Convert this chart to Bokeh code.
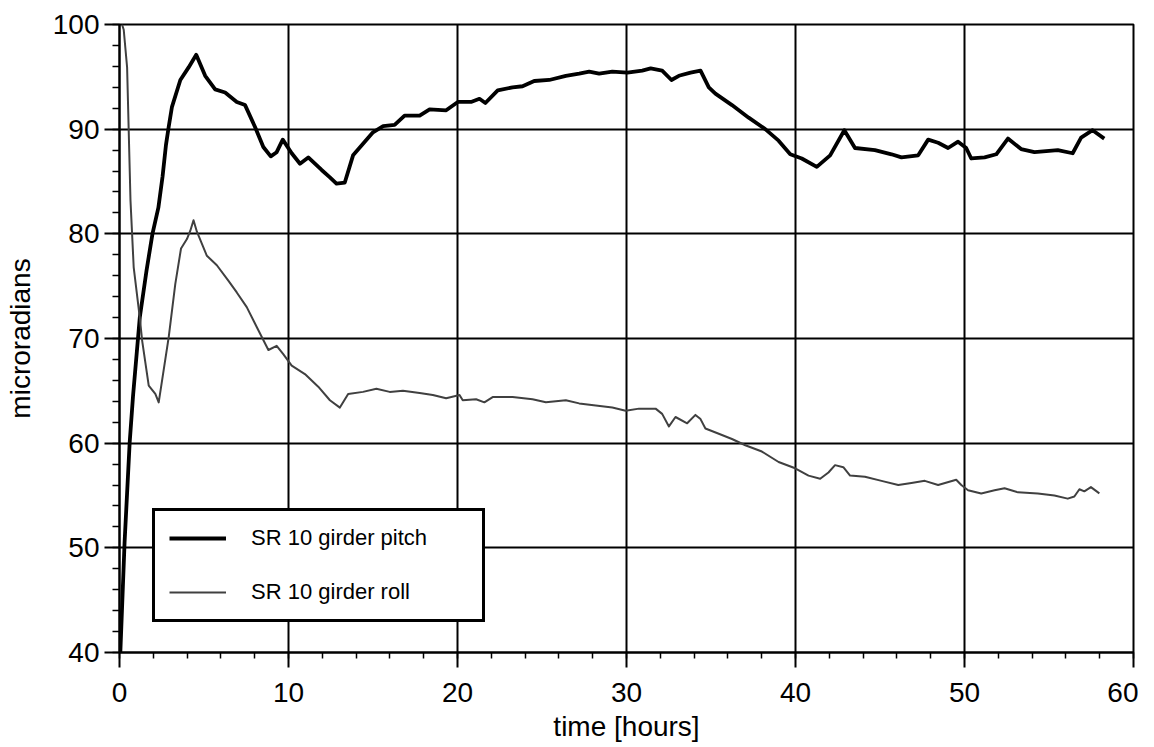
from bokeh.plotting import figure
from bokeh.models import Range1d, SingleIntervalTicker, Legend, LegendItem
from bokeh.embed import file_html
from bokeh.resources import INLINE

# ---- data ----
pitch_t = [0.05, 0.3, 0.6, 0.8, 1.2, 1.6, 1.95, 2.3, 2.55, 2.75, 2.91, 3.1, 3.6, 4.09, 4.54,
           5.07, 5.66, 6.25, 6.94, 7.43, 8.02, 8.51, 8.95, 9.3, 9.66, 10.19, 10.68, 11.17,
           11.96, 12.45, 12.84, 13.33, 13.82, 14.41, 15.0, 15.6, 16.28, 16.87, 17.76, 18.35,
           19.33, 20.02, 20.8, 21.3, 21.65, 22.38, 23.26, 23.85, 24.54, 25.43, 26.41, 27.2,
           27.79, 28.38, 29.16, 30.05, 30.93, 31.43, 32.11, 32.66, 33.1, 33.79, 34.38, 34.87,
           35.26, 36.24, 37.23, 38.21, 39.0, 39.69, 40.37, 41.26, 42.05, 42.89, 43.52, 44.7,
           45.68, 46.27, 47.26, 47.85, 48.44, 49.03, 49.62, 50.1, 50.4, 51.19, 51.88, 52.57,
           53.35, 54.14, 55.52, 56.4, 56.9, 57.58, 58.27]
pitch_v = [40.0, 50.5, 60.0, 64.5, 72.0, 76.5, 80.0, 82.5, 85.5, 88.5, 90.2, 92.1, 94.7, 95.9, 97.1,
           95.1, 93.8, 93.5, 92.6, 92.3, 90.2, 88.3, 87.4, 87.8, 89.0, 87.7, 86.7, 87.3,
           86.1, 85.4, 84.8, 84.9, 87.5, 88.6, 89.7, 90.3, 90.4, 91.3, 91.3, 91.9,
           91.8, 92.6, 92.6, 92.9, 92.5, 93.7, 94.0, 94.1, 94.6, 94.7, 95.1, 95.3,
           95.5, 95.3, 95.5, 95.4, 95.6, 95.8, 95.6, 94.7, 95.1, 95.4, 95.6, 94.0,
           93.4, 92.3, 91.1, 90.0, 88.9, 87.6, 87.2, 86.4, 87.5, 89.9, 88.2, 88.0,
           87.6, 87.3, 87.5, 89.0, 88.7, 88.2, 88.8, 88.2, 87.2, 87.3, 87.6, 89.1,
           88.1, 87.8, 88.0, 87.7, 89.2, 89.9, 89.1]

roll_t = [0.15, 0.25, 0.45, 0.65, 0.84, 1.2, 1.34, 1.73, 2.12, 2.32, 2.52, 2.91, 3.3, 3.64, 3.99,
          4.19, 4.38, 4.58, 5.17, 5.76, 6.45, 6.94, 7.53, 8.12, 8.81, 9.3, 9.69, 10.19, 10.97,
          11.76, 12.45, 13.04, 13.53, 14.41, 15.2, 15.99, 16.77, 17.76, 18.54, 19.33, 20.12,
          20.31, 21.1, 21.59, 22.08, 23.26, 24.44, 25.23, 26.41, 27.2, 28.18, 29.16, 29.95,
          30.74, 31.72, 32.11, 32.51, 32.9, 33.59, 34.08, 34.38, 34.67, 35.46, 36.24, 37.03,
          38.01, 39.0, 39.98, 40.77, 41.46, 41.95, 42.34, 42.83, 43.23, 44.11, 45.09, 46.08,
          46.86, 47.65, 48.44, 49.51, 49.81, 50.21, 50.99, 51.78, 52.37, 53.16, 54.34, 55.32,
          56.11, 56.5, 56.8, 57.09, 57.48, 57.98]
roll_v = [100.0, 99.5, 95.9, 83.2, 76.8, 72.0, 69.8, 65.5, 64.7, 63.9, 66.0, 70.1, 75.2, 78.6, 79.5,
          80.3, 81.3, 80.2, 77.9, 77.0, 75.5, 74.4, 73.0, 71.1, 68.9, 69.3, 68.5, 67.4, 66.6,
          65.4, 64.1, 63.4, 64.7, 64.9, 65.2, 64.9, 65.0, 64.8, 64.6, 64.3, 64.6,
          64.1, 64.2, 63.9, 64.4, 64.4, 64.2, 63.9, 64.1, 63.8, 63.6, 63.4, 63.1,
          63.3, 63.3, 62.8, 61.6, 62.5, 61.9, 62.7, 62.3, 61.4, 60.9, 60.4, 59.8,
          59.2, 58.2, 57.6, 56.9, 56.6, 57.2, 57.9, 57.7, 56.9, 56.8, 56.4, 56.0,
          56.2, 56.4, 56.0, 56.5, 56.0, 55.5, 55.2, 55.5, 55.7, 55.3, 55.2, 55.0,
          54.7, 54.9, 55.6, 55.4, 55.8, 55.2]

series_labels = ["SR 10 girder pitch", "SR 10 girder roll"]
x_label = "time [hours]"
y_label = "microradians"

FONT = "Liberation Sans"

p = figure(width=1138, height=745, output_backend="svg", toolbar_location=None,
           x_range=Range1d(0, 60), y_range=Range1d(40, 100),
           min_border_left=119, min_border_right=5, min_border_top=24, min_border_bottom=93)

p.background_fill_color = "white"
p.border_fill_color = "white"
p.outline_line_color = "black"
p.outline_line_width = 2

for ax in (p.xaxis[0], p.yaxis[0]):
    ax.ticker = SingleIntervalTicker(interval=10, num_minor_ticks=5)
    ax.axis_line_color = "black"
    ax.axis_line_width = 2
    ax.major_tick_line_color = "black"
    ax.major_tick_line_width = 2
    ax.minor_tick_line_color = "black"
    ax.minor_tick_line_width = 1.5
    ax.major_tick_in = 0
    ax.minor_tick_in = 0
    ax.major_tick_out = 15
    ax.major_label_text_font = FONT
    ax.major_label_text_font_size = "28px"
    ax.major_label_text_color = "black"
    ax.axis_label_text_font = FONT
    ax.axis_label_text_font_size = "28px"
    ax.axis_label_text_font_style = "normal"
    ax.axis_label_text_color = "black"

p.xaxis.minor_tick_out = 6
p.yaxis.minor_tick_out = 7
p.xaxis.major_label_standoff = 15
p.yaxis.major_label_standoff = 5
p.xaxis.axis_label = x_label
p.yaxis.axis_label = y_label
p.xaxis.axis_label_standoff = 6
p.yaxis.axis_label_standoff = 14

for g in (p.xgrid[0], p.ygrid[0]):
    g.grid_line_color = "black"
    g.grid_line_width = 2
    g.grid_line_alpha = 1.0

r_pitch = p.line(pitch_t, pitch_v, line_color="black", line_width=3.8, line_join="round")
r_roll = p.line(roll_t, roll_v, line_color="#404040", line_width=2, line_join="round")

legend = Legend(items=[LegendItem(label=series_labels[0], renderers=[r_pitch]),
                       LegendItem(label=series_labels[1], renderers=[r_roll])],
                location=(33, 30), margin=0, padding=14, spacing=28,
                glyph_width=57, glyph_height=26, label_height=26, label_width=217,
                label_standoff=25,
                label_text_font=FONT, label_text_font_size="22px", label_text_color="black",
                border_line_color="black", border_line_width=3, border_line_alpha=1.0,
                background_fill_color="white", background_fill_alpha=1.0)
p.add_layout(legend, "center")

open("out.html", "w").write(file_html(p, INLINE))
